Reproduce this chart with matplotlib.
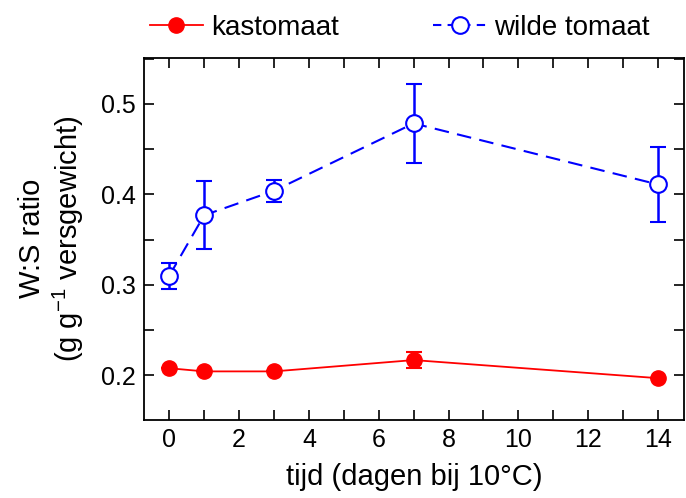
import numpy as np
import matplotlib.pyplot as plt
from matplotlib.ticker import MultipleLocator
from matplotlib.lines import Line2D

plt.rcParams['font.family'] = ['Liberation Sans', 'DejaVu Sans']
plt.rcParams['mathtext.fontset'] = 'custom'
plt.rcParams['mathtext.rm'] = 'Liberation Sans'

# data
dagen = [0, 1, 3, 7, 14]
kastomaat = [0.208, 0.2045, 0.2045, 0.217, 0.197]
kastomaat_err = [0.0, 0.0, 0.0, 0.0085, 0.0]
wilde = [0.310, 0.377, 0.404, 0.4785, 0.411]
wilde_err = [0.0144, 0.0378, 0.0118, 0.044, 0.041]

fig = plt.figure(figsize=(6.86, 4.98), dpi=100)
ax = fig.add_axes([0.21, 0.157, 0.787, 0.727])

ax.errorbar(dagen, kastomaat, yerr=kastomaat_err, color='red', lw=1.3,
            marker='o', markersize=11, capsize=6, capthick=1.5, elinewidth=1.5)
ax.errorbar(dagen, wilde, yerr=wilde_err, color='blue', lw=1.5, ls=(0, (7, 4)),
            marker='o', markersize=12, markerfacecolor='white', markeredgewidth=1.5,
            capsize=6, capthick=1.8, elinewidth=1.8)

ax.set_xlim(-0.72, 14.74)
ax.set_ylim(0.151, 0.551)
ax.xaxis.set_major_locator(MultipleLocator(2))
ax.xaxis.set_minor_locator(MultipleLocator(1))
ax.yaxis.set_major_locator(MultipleLocator(0.1))
ax.yaxis.set_minor_locator(MultipleLocator(0.05))
ax.tick_params(which='both', direction='in', top=True, right=True, width=1.2, labelsize=18)
ax.tick_params(which='major', length=7, pad=6)
ax.tick_params(which='minor', length=7)
for s in ax.spines.values():
    s.set_linewidth(1.3)

ax.set_xlabel('tijd (dagen bij 10°C)', fontsize=21, labelpad=8)
ax.set_ylabel('W:S ratio\n(g g$^{\\mathregular{-1}}$ versgewicht)', fontsize=21,
              labelpad=11, linespacing=1.15)

h = [Line2D([], [], color='red', lw=1.3, marker='o', markersize=11),
     Line2D([], [], color='blue', lw=1.5, ls=(0, (4, 3)), marker='o', markersize=12,
            markerfacecolor='white', markeredgewidth=1.5)]
fig.legend(h, ['kastomaat', 'wilde tomaat'], loc='upper center',
           bbox_to_anchor=(0.583, 1.02), ncol=2, frameon=False, fontsize=20,
           columnspacing=3.4, handlelength=1.9, handletextpad=0.3)

fig.savefig('out.png', dpi=100)
